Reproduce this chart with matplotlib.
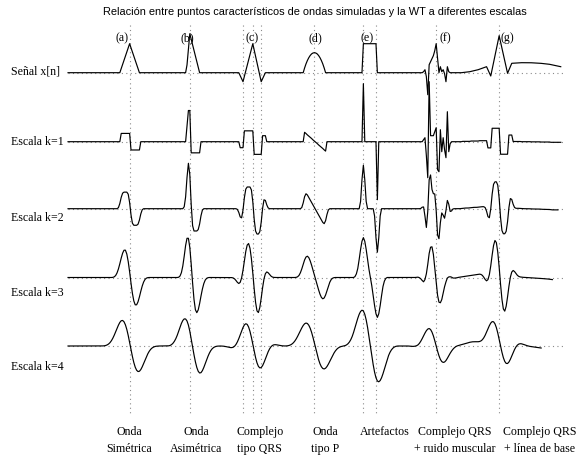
import numpy as np
import matplotlib
matplotlib.use('Agg')
import matplotlib.pyplot as plt

# simulated waves: knot positions (samples) and amplitudes
wave_a_n = [37, 44, 51]
wave_a_v = [0, 29, 0]
wave_b_n = [84.5, 87, 94]
wave_b_v = [0, 39, 0]
wave_c_n = [122, 125, 132, 138, 141]
wave_c_v = [0, -9, 29, -9, 0]
wave_d_n = list(range(168, 185))
wave_d_v = [0, 4.7, 8.8, 12.2, 15.0, 17.2, 18.8, 19.7, 20.0,
            19.7, 18.8, 17.2, 15.0, 12.2, 8.8, 4.7, 0]
wave_e_n = [210, 211, 220, 221]
wave_e_v = [0, 29, 29, 0]
wave_f_n = list(range(253, 274))
wave_f_v = [0, 1, 3, -4, -22, 8, 11, 14, 17, 22, 29, 15, 0, 6, 1, 3, -1, -9, 6, 1, 0]
wave_g_n = [281, 287, 293, 299, 302, 308, 314, 317, 323, 330, 337, 344, 352]
wave_g_v = [0, 1, 3, 6, -3.3, 37, -0.6, 9.4, 10, 10, 9.5, 8.4, 6]

n_samples = 353

# characteristic points (dotted verticals)
char_points = [44, 87, 125, 132, 138, 176, 211, 220, 263, 308]

top_labels = ['(a)', '(b)', '(c)', '(d)', '(e)', '(f)', '(g)']
top_label_x = [38.6, 85, 131.4, 176.4, 213.6, 269.3, 313.6]

bottom_labels = [('Onda', 'Simétrica'), ('Onda', 'Asimétrica'), ('Complejo', 'tipo QRS'),
                 ('Onda', 'tipo P'), ('Artefactos', ''), ('Complejo QRS', '+ ruido muscular'),
                 ('Complejo QRS', '+ línea de base')]
bottom_label_x = [43.6, 91.4, 137.1, 183.6, 226.4, 276.4, 337.1]

trace_names = ['Señal x[n]', 'Escala k=1', 'Escala k=2', 'Escala k=3', 'Escala k=4']
trace_offset = [72.7, 141.7, 208.7, 277.5, 346]
name_y = [71.5, 142, 218, 293.5, 366.5]


def upsample(c, step):
    out = np.zeros((len(c) - 1) * step + 1)
    out[::step] = c
    return out


def wavelet_filter(k):
    # quadratic spline wavelet, a trous
    h = np.array([1, 3, 3, 1]) / 8.0
    g = np.array([2.0, -2.0])
    f = np.array([1.0])
    for j in range(1, k):
        f = np.convolve(f, upsample(h, 2 ** (j - 1)))
    return np.convolve(f, upsample(g, 2 ** (k - 1)))


def wt(x, k):
    f = wavelet_filter(k)
    c = (len(f) - 1) // 2
    y = np.convolve(x, f)
    return y[c:c + len(x) - c]


n = np.arange(n_samples)
signal = np.zeros(n_samples)
for kn, kv in [(wave_a_n, wave_a_v), (wave_b_n, wave_b_v), (wave_c_n, wave_c_v),
               (wave_d_n, wave_d_v), (wave_e_n, wave_e_v), (wave_f_n, wave_f_v),
               (wave_g_n, wave_g_v)]:
    mask = (n >= kn[0]) & (n <= kn[-1])
    signal[mask] += np.interp(n[mask], kn, kv)

traces = [signal] + [wt(signal, k) for k in range(1, 5)]

serif = 'Liberation Serif'
dot_style = (0, (1, 3))
dot_color = '#8a8a8a'

fig = plt.figure(figsize=(5.76, 4.55), dpi=100)
ax = fig.add_axes([0, 0, 1, 1])
ax.set_xlim(-48.6, 362.9)
ax.set_ylim(455, 0)
ax.axis('off')

ax.vlines(char_points, 25, 414, colors=dot_color, linestyles=dot_style, linewidth=0.8, zorder=1)

for tr, off, name, ny in zip(traces, trace_offset, trace_names, name_y):
    ax.plot([0, 354], [off, off], color=dot_color, linestyle=dot_style, linewidth=0.8, zorder=1)
    ax.plot(n[:len(tr)], off - tr, color='black', linewidth=0.85, zorder=2)
    ax.text(-40.7, ny, name, family=serif, fontsize=8.6, ha='left', va='center')

for lab, x in zip(top_labels, top_label_x):
    ax.text(x, 38, lab, family=serif, fontsize=8.6, ha='center', va='center')

for (l1, l2), x in zip(bottom_labels, bottom_label_x):
    ax.text(x, 432, l1, family=serif, fontsize=8.6, ha='center', va='center')
    if l2:
        ax.text(x, 449, l2, family=serif, fontsize=8.6, ha='center', va='center')

ax.text(176.6, 12, 'Relación entre puntos característicos de ondas simuladas y la WT a diferentes escalas',
        family='Liberation Sans', fontsize=7.9, ha='center', va='center')

fig.savefig('out.png', dpi=100)
